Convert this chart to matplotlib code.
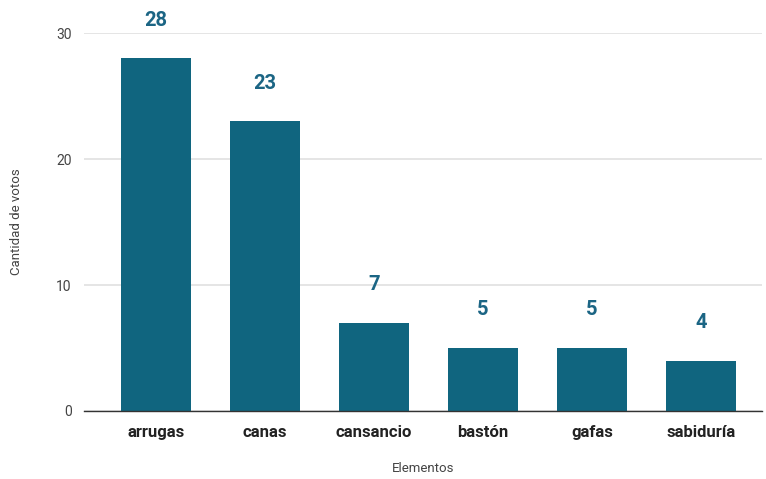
import matplotlib
matplotlib.use("Agg")
import matplotlib.pyplot as plt

categories = ["arrugas", "canas", "cansancio", "bastón", "gafas", "sabiduría"]
votes = [28, 23, 7, 5, 5, 4]
yticks = [0, 10, 20, 30]

plt.rcParams['font.family'] = ['Roboto', 'DejaVu Sans']

fig = plt.figure(figsize=(7.66, 4.79), dpi=100)
ax = fig.add_axes([0.1097, 0.142, 0.885, 0.789])

bar_color = "#10657f"
x = list(range(len(categories)))
ax.bar(x, votes, width=0.64, color=bar_color, zorder=3)

for xi, v in zip(x, votes):
    ax.annotate(str(v), (xi, v), xytext=(0, 27.5), textcoords="offset points",
                ha="center", va="center", fontsize=14.5, fontweight="bold",
                color="#1b6584", annotation_clip=False)

ax.set_xlim(-0.66, 5.56)
ax.set_ylim(0, 30)
ax.set_yticks(yticks)
ax.set_yticklabels([str(t) for t in yticks], fontsize=10, color="#444444")
ax.set_xticks(x)
ax.set_xticklabels(categories, fontsize=12, fontweight="bold", color="#222222")
ax.tick_params(axis="both", length=0)
ax.tick_params(axis="x", pad=10)
ax.tick_params(axis="y", pad=9)

ax.grid(axis="y", color="#e0e0e0", linewidth=1.2, zorder=0)
for s in ["top", "right", "left"]:
    ax.spines[s].set_visible(False)
ax.spines["bottom"].set_color("#333333")
ax.spines["bottom"].set_linewidth(1)
ax.spines["bottom"].set_zorder(4)

ax.set_xlabel("Elementos", fontsize=9.5, color="#444444", labelpad=16)
ax.set_ylabel("Cantidad de votos", fontsize=9.5, color="#444444", labelpad=24)

fig.savefig("out.png", dpi=100)
